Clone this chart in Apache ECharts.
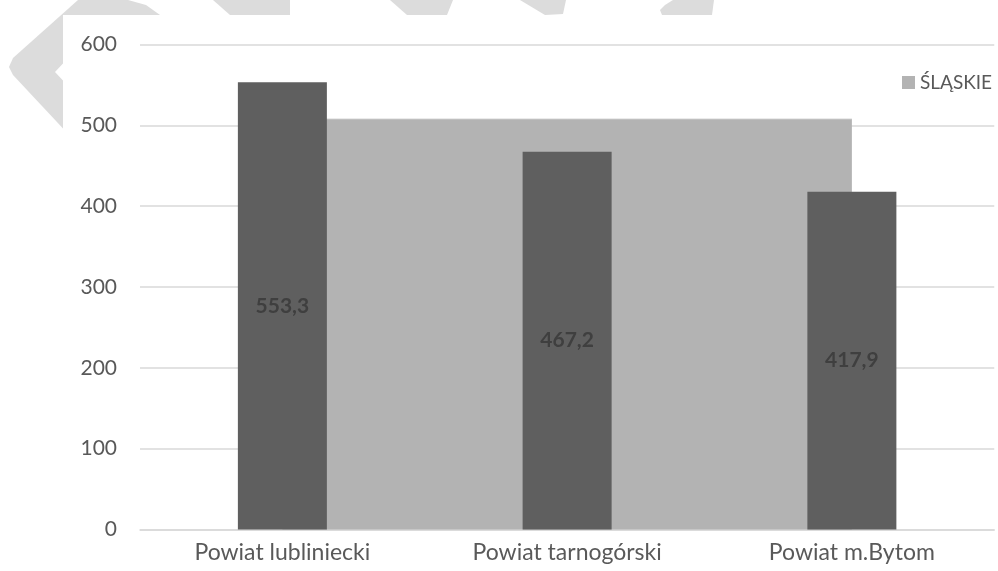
<!DOCTYPE html>
<html>
<head>
<meta charset="utf-8">
<script src="https://cdn.jsdelivr.net/npm/echarts@6/dist/echarts.min.js"></script>
<style>
html,body{margin:0;padding:0;background:#fff;}
#chart{width:998px;height:571px;}
</style>
</head>
<body>
<div id="chart"></div>
<script>
const categories = ['Powiat lubliniecki', 'Powiat tarnogórski', 'Powiat m.Bytom'];
const powiatValues = [553.3, 467.2, 417.9];
const slaskieValues = [507.6, 507.6, 507.6];
const slaskieName = 'ŚLĄSKIE';
const yTicks = [0, 100, 200, 300, 400, 500, 600];

const FONT = 'Lato';
const wm = '#dcdcdc';

const chart = echarts.init(document.getElementById('chart'), null, {renderer: 'canvas'});
chart.setOption({
  backgroundColor: '#ffffff',
  animation: false,
  graphic: [
    {type: 'polygon', z: -10, silent: true,
     shape: {points: [[78,0],[128,0],[146,5],[160,15],[160,168],[100,168],[13,75],[9,67],[13,58]]},
     style: {fill: wm}},
    {type: 'polygon', z: -10, silent: true,
     shape: {points: [[213,0],[290,0],[290,15],[230,15]]}, style: {fill: wm}},
    {type: 'polygon', z: -10, silent: true,
     shape: {points: [[390,0],[453,0],[447,15],[407,15]]}, style: {fill: wm}},
    {type: 'polygon', z: -10, silent: true,
     shape: {points: [[520,0],[566,0],[563,14],[545,15]]}, style: {fill: wm}},
    {type: 'polygon', z: -10, silent: true,
     shape: {points: [[673,0],[714,0],[712,15],[662,15],[660,10],[665,5]]}, style: {fill: wm}},
    {type: 'rect', z: -5, silent: true,
     shape: {x: 63, y: 15, width: 935, height: 556}, style: {fill: '#ffffff'}},
    {type: 'polygon', z: -5, silent: true,
     shape: {points: [[55,72],[70,56],[70,88]]}, style: {fill: '#ffffff'}}
  ],
  legend: {
    left: 897, top: 68,
    data: [slaskieName],
    icon: 'rect', itemWidth: 13, itemHeight: 13, itemGap: 5,
    textStyle: {color: '#595959', fontFamily: FONT, fontSize: 19}
  },
  grid: {left: 140, right: 3.75, top: 44.5, bottom: 41.5, containLabel: false},
  xAxis: {
    type: 'category',
    data: categories,
    boundaryGap: true,
    axisLine: {show: true, lineStyle: {color: '#d9d9d9', width: 1.5}},
    axisTick: {show: false},
    axisLabel: {color: '#595959', fontFamily: FONT, fontSize: 23, margin: 12}
  },
  yAxis: {
    type: 'value',
    min: yTicks[0], max: yTicks[yTicks.length - 1], interval: 100,
    axisLine: {show: false},
    axisTick: {show: false},
    splitLine: {lineStyle: {color: '#d9d9d9', width: 1.5}},
    axisLabel: {color: '#595959', fontFamily: FONT, fontSize: 21, margin: 23}
  },
  series: [
    {
      name: slaskieName,
      type: 'line',
      data: slaskieValues,
      z: 1,
      symbol: 'none',
      lineStyle: {color: '#bdbdbd', width: 1},
      itemStyle: {color: '#b3b3b3'},
      areaStyle: {color: '#b3b3b3', opacity: 1}
    },
    {
      name: 'Powiat',
      type: 'bar',
      data: powiatValues,
      z: 2,
      barWidth: 89,
      itemStyle: {color: '#5f5f5f'},
      label: {
        show: true, position: 'inside',
        color: '#3f3f3f', fontFamily: FONT, fontWeight: 'bold', fontSize: 21,
        formatter: p => String(p.value).replace('.', ',')
      }
    }
  ]
});
</script>
</body>
</html>
